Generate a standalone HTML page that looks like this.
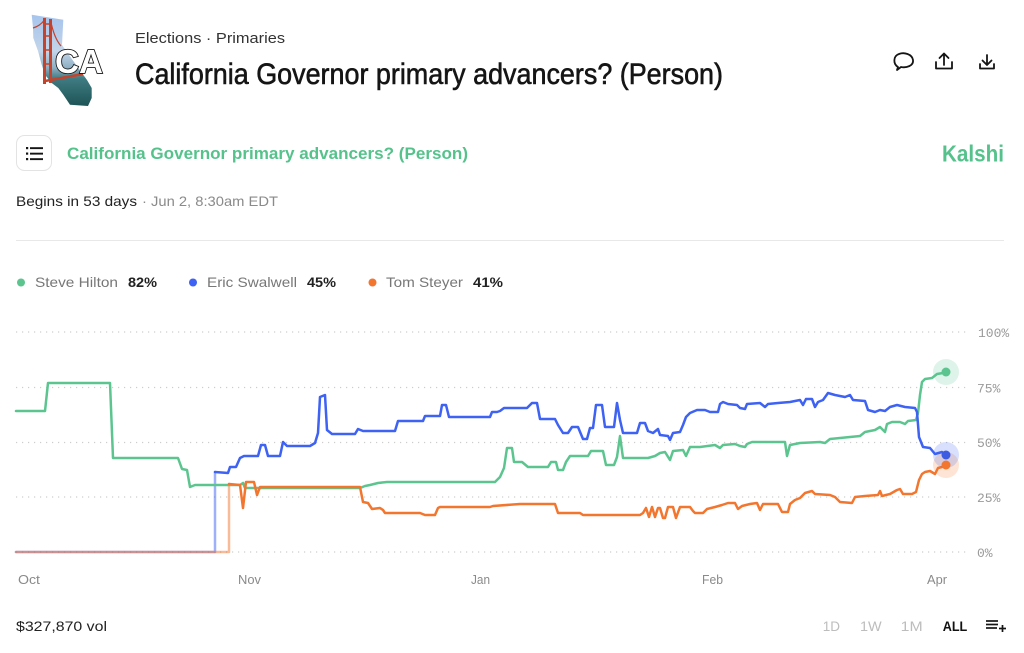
<!DOCTYPE html>
<html>
<head>
<meta charset="utf-8">
<style>
  html,body{margin:0;padding:0;background:#fff;}
  svg{display:block;}
</style>
</head>
<body>
<svg width="1024" height="653" viewBox="0 0 1024 653" xmlns="http://www.w3.org/2000/svg" font-family="'Liberation Sans', sans-serif">
  <defs>
    <linearGradient id="ca" x1="0" y1="0" x2="0" y2="1">
      <stop offset="0" stop-color="#a6c4ec"/>
      <stop offset="0.4" stop-color="#c3d5ea"/>
      <stop offset="0.58" stop-color="#8fb0c4"/>
      <stop offset="0.7" stop-color="#3f7b82"/>
      <stop offset="1" stop-color="#1d5456"/>
    </linearGradient>
  </defs>
  <rect width="1024" height="653" fill="#fff"/>

  <!-- Logo -->
  <path d="M31.7,14.7 L63.3,19.7 L62,45 L74,62 L87,80 L91.7,88 L91.7,98 L88,106 L70,104.7 L63.3,94.7 L58.3,88 L51.7,83 L45,74.7 L41.7,64.7 L38,51 L33.3,38 L33,28 Z" fill="url(#ca)"/>
  <g stroke="#c4432c" fill="none">
    <path d="M44.5,18 V84" stroke-width="3"/>
    <path d="M50.5,19 V83" stroke-width="3"/>
    <path d="M44.5,24 H50.5 M44.5,36 H50.5 M44.5,50 H50.5 M44.5,64 H50.5" stroke-width="1.6"/>
    <path d="M50.5,20 Q54,38 61,46" stroke-width="1.2"/>
    <path d="M44.5,20 Q40,26 33,28" stroke-width="1.2"/>
    <path d="M45,81 L83,74" stroke-width="2.6"/>
  </g>
  <text x="55" y="73" font-size="33" font-weight="bold" textLength="48" lengthAdjust="spacingAndGlyphs" fill="#fff" stroke="#111" stroke-width="1.7" paint-order="stroke">CA</text>

  <!-- Header -->
  <text x="135" y="43" font-size="14.5" fill="#333" textLength="150" lengthAdjust="spacingAndGlyphs">Elections  ·  Primaries</text>
  <text x="135" y="84" font-size="30" fill="#151515" stroke="#151515" stroke-width="0.6" textLength="588" lengthAdjust="spacingAndGlyphs">California Governor primary advancers? (Person)</text>

  <!-- Header icons -->
  <g fill="none" stroke="#151515" stroke-width="1.8" stroke-linecap="round" stroke-linejoin="round">
    <path d="M898,67 C893,64 893,56 899,54 C904,52 912,54 913,60 C914,66 906,68 901,67 L897,70 Z"/>
    <path d="M944,65 V53.5 M939.5,58 L944,53.5 L948.5,58"/>
    <path d="M936,62 V68.5 H952 V62"/>
    <path d="M987,55 V65 M982.5,60.5 L987,65 L991.5,60.5"/>
    <path d="M980,64 V68.5 H994 V64"/>
  </g>

  <!-- List button -->
  <rect x="16.5" y="135.5" width="35" height="35" rx="8" fill="#fff" stroke="#e3e3e3"/>
  <g fill="#151515">
    <rect x="26" y="147" width="2.2" height="2.2"/>
    <rect x="26" y="152.5" width="2.2" height="2.2"/>
    <rect x="26" y="158" width="2.2" height="2.2"/>
    <rect x="30" y="147.2" width="13" height="1.9"/>
    <rect x="30" y="152.7" width="13" height="1.9"/>
    <rect x="30" y="158.2" width="13" height="1.9"/>
  </g>

  <text x="67" y="159" font-size="16.5" font-weight="bold" fill="#55c28c" textLength="401" lengthAdjust="spacingAndGlyphs">California Governor primary advancers? (Person)</text>
  <text x="942" y="161.5" font-size="23" font-weight="bold" fill="#55c28c" textLength="62" lengthAdjust="spacingAndGlyphs">Kalshi</text>

  <text x="16" y="206" font-size="14" fill="#222" textLength="121" lengthAdjust="spacingAndGlyphs">Begins in 53 days</text>
  <text x="142" y="206" font-size="14" fill="#8a8a8a" textLength="136" lengthAdjust="spacingAndGlyphs">· Jun 2, 8:30am EDT</text>

  <line x1="16" y1="240.5" x2="1004" y2="240.5" stroke="#e8e8e8" stroke-width="1"/>

  <!-- Legend -->
  <circle cx="21" cy="282.5" r="4" fill="#5cc58f"/>
  <text x="35" y="287" font-size="14" fill="#777" textLength="83" lengthAdjust="spacingAndGlyphs">Steve Hilton</text>
  <text x="128" y="287" font-size="14" font-weight="bold" fill="#222" textLength="29" lengthAdjust="spacingAndGlyphs">82%</text>
  <circle cx="193" cy="282.5" r="4" fill="#3d62f4"/>
  <text x="207" y="287" font-size="14" fill="#777" textLength="90" lengthAdjust="spacingAndGlyphs">Eric Swalwell</text>
  <text x="307" y="287" font-size="14" font-weight="bold" fill="#222" textLength="29" lengthAdjust="spacingAndGlyphs">45%</text>
  <circle cx="372.5" cy="282.5" r="4" fill="#f3762f"/>
  <text x="386" y="287" font-size="14" fill="#777" textLength="77" lengthAdjust="spacingAndGlyphs">Tom Steyer</text>
  <text x="473" y="287" font-size="14" font-weight="bold" fill="#222" textLength="30" lengthAdjust="spacingAndGlyphs">41%</text>

  <!-- Gridlines -->
  <g stroke="#cdcdcd" stroke-width="1.2" stroke-dasharray="1.2 4.8">
    <line x1="16" y1="332" x2="966" y2="332"/>
    <line x1="16" y1="387.5" x2="966" y2="387.5"/>
    <line x1="16" y1="442.5" x2="966" y2="442.5"/>
    <line x1="16" y1="497" x2="966" y2="497"/>
    <line x1="16" y1="552" x2="966" y2="552"/>
  </g>
  <g font-family="'Liberation Mono', monospace" font-size="13" fill="#9a9a9a">
    <text x="978" y="337">100%</text>
    <text x="977" y="392.5">75%</text>
    <text x="977" y="447">50%</text>
    <text x="977" y="502">25%</text>
    <text x="977" y="557">0%</text>
  </g>

  <!-- X labels -->
  <g font-size="13" fill="#8a8a8a">
    <text x="18" y="584" textLength="22" lengthAdjust="spacingAndGlyphs">Oct</text>
    <text x="238" y="584" textLength="23" lengthAdjust="spacingAndGlyphs">Nov</text>
    <text x="471" y="584" textLength="19" lengthAdjust="spacingAndGlyphs">Jan</text>
    <text x="702" y="584" textLength="21" lengthAdjust="spacingAndGlyphs">Feb</text>
    <text x="927" y="584" textLength="20" lengthAdjust="spacingAndGlyphs">Apr</text>
  </g>

  <!-- Series -->
  <g fill="none" stroke-width="2.5" stroke-linejoin="round" stroke-linecap="round">
    <path d="M16,552 H215 V472" stroke="#3d62f4" stroke-opacity="0.5"/>
    <path d="M16,552 H229 V484" stroke="#f3762f" stroke-opacity="0.5"/>
    <polyline stroke="#5cc58f" points="16,411 45,411 48,383 110,383 113,458 178,458 182,469 187,470 190,487 195,485 240,485 243,483 245,488 360,488 365,486 370,485 378,483 387,482 495,482 500,477 504,468 507,448 512,448 514,462 522,462 528,467 548,467 551,462 556,462 558,470 563,470 566,462 570,456 588,456 591,451 603,451 606,465 614,465 617,457 620,436 623,458 648,458 655,456 660,453 665,452 670,460 673,451 683,450 686,456 690,447 700,447 715,445 720,448 723,445 735,444 740,446 745,447 747,444 752,442 785,442 787,456 790,445 800,443 820,442 825,443 830,439 850,437 860,436 865,432 875,430 880,427 885,432 887,424 892,422 900,422 905,424 908,421 916,420 918,413 920,395 922,382 925,379 932,378 937,374 943,373 946,372"/>
    <polyline stroke="#f3762f" points="229,484 240,485 243,508 246,482 254,482 257,495 260,487 360,487 363,502 368,503 372,509 380,508 383,510 385,513 420,513 425,515 435,515 438,508 440,507 490,507 493,506 520,504 555,504 558,513 580,513 583,515 640,515 643,513 646,508 649,517 652,507 655,517 658,508 660,508 663,518 665,518 668,507 673,507 676,518 680,507 690,507 693,511 695,513 703,513 707,509 715,507 722,505 728,503 735,503 738,509 742,506 750,504 757,503 760,510 763,504 778,504 782,512 788,512 790,504 795,500 800,498 805,493 812,491 815,494 830,495 835,497 840,502 852,503 855,497 865,496 878,495 880,491 882,496 890,494 897,490 900,489 903,494 912,494 916,492 919,480 922,474 925,472 930,471 935,474 938,468 942,467 946,465"/>
    <polyline stroke="#3d62f4" points="215,472 228,473 230,467 236,467 240,458 244,456 258,456 261,445 265,445 268,456 280,456 283,442 287,446 310,446 315,443 318,433 320,397 325,395 327,430 332,434 355,434 358,429 363,431 395,431 398,421 423,421 425,416 440,416 442,405 446,405 449,417 490,417 492,412 497,412 500,411 504,408 527,408 532,403 537,403 540,419 555,419 558,425 563,433 568,433 572,427 578,427 583,439 587,439 590,428 593,428 596,405 602,405 605,427 614,427 617,403 620,420 623,433 637,433 640,423 645,423 648,431 653,433 658,429 660,435 668,436 670,440 673,433 680,432 683,425 686,417 690,413 697,410 705,410 710,412 718,412 720,404 723,402 728,404 737,405 740,408 745,409 747,404 760,403 765,407 768,404 778,403 790,402 795,401 800,400 803,405 806,399 812,399 815,407 818,402 823,400 828,393 835,395 845,397 850,395 853,400 865,401 868,410 875,412 880,410 885,411 890,407 897,405 905,407 915,408 917,412 919,437 923,447 930,448 935,454 942,452 946,455"/>
  </g>

  <!-- End dots -->
  <circle cx="946" cy="372" r="13" fill="#5cc58f" fill-opacity="0.2"/>
  <circle cx="946" cy="465" r="13" fill="#f3762f" fill-opacity="0.2"/>
  <circle cx="946" cy="455" r="13" fill="#3d62f4" fill-opacity="0.2"/>
  <circle cx="946" cy="372" r="4.5" fill="#5cc58f"/>
  <circle cx="946" cy="465" r="4.5" fill="#f3762f"/>
  <circle cx="946" cy="455" r="4.5" fill="#3d5be0"/>

  <!-- Bottom -->
  <text x="16" y="631" font-size="14" fill="#222" textLength="91" lengthAdjust="spacingAndGlyphs">$327,870 vol</text>
  <text x="822.7" y="631" font-size="14" fill="#bdbdbd" textLength="17.3" lengthAdjust="spacingAndGlyphs">1D</text>
  <text x="860" y="631" font-size="14" fill="#bdbdbd" textLength="21.7" lengthAdjust="spacingAndGlyphs">1W</text>
  <text x="900.7" y="631" font-size="14" fill="#bdbdbd" textLength="22" lengthAdjust="spacingAndGlyphs">1M</text>
  <text x="942.7" y="631" font-size="14" font-weight="bold" fill="#111" textLength="24.6" lengthAdjust="spacingAndGlyphs">ALL</text>
  <g stroke="#151515" stroke-width="1.7">
    <line x1="986" y1="621" x2="998" y2="621"/>
    <line x1="986" y1="624.5" x2="998" y2="624.5"/>
    <line x1="986" y1="628" x2="997" y2="628"/>
    <line x1="999" y1="628.5" x2="1006" y2="628.5"/>
    <line x1="1002.5" y1="625" x2="1002.5" y2="632"/>
  </g>
</svg>
</body>
</html>
